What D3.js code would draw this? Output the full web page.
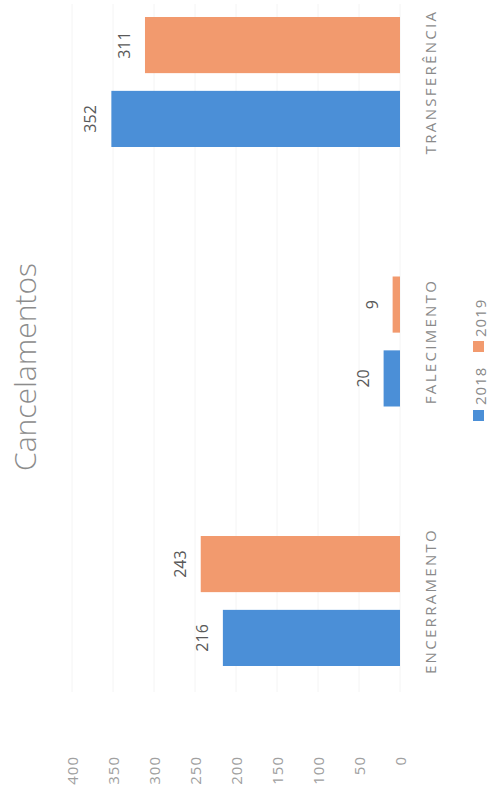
<!DOCTYPE html>
<html>
<head>
<meta charset="utf-8">
<script src="https://cdn.jsdelivr.net/npm/d3@7"></script>
<style>
  html, body { margin: 0; padding: 0; background: #ffffff; }
  svg { display: block; }
  text { font-family: "Open Sans", "DejaVu Sans", sans-serif; }
</style>
</head>
<body>
<svg id="chart" width="489" height="802"></svg>
<script>
// ---- data ----
const title = "Cancelamentos";
const categories = ["ENCERRAMENTO", "FALECIMENTO", "TRANSFERÊNCIA"];
const seriesNames = ["2018", "2019"];
const values2018 = [216, 20, 352];
const values2019 = [243, 9, 311];
const tickValues = [0, 50, 100, 150, 200, 250, 300, 350, 400];
const seriesColors = ["#4b8fd7", "#f29a6e"];

// ---- layout (chart is drawn rotated: values grow leftward, categories stacked vertically) ----
const W = 489, H = 802;
const svg = d3.select("#chart");

const x = d3.scaleLinear().domain([0, 400]).range([400, 72]);
const yCat = d3.scalePoint().domain(categories).range([601, 82]);
const ySer = d3.scaleBand().domain(seriesNames).range([65, -65]).paddingInner(0.24);

const seriesData = [values2018, values2019];

// gridlines (very faint in the scanned reference)
svg.append("g")
  .selectAll("line")
  .data(tickValues)
  .join("line")
  .attr("x1", d => x(d)).attr("x2", d => x(d))
  .attr("y1", 4).attr("y2", 692)
  .attr("stroke", "#f4f4f4")
  .attr("stroke-width", 1);

// value axis (tick labels only)
const axis = d3.axisBottom(x).tickValues(tickValues).tickSize(0).tickFormat(d3.format("d"));
const axG = svg.append("g").attr("transform", "translate(0,756)").call(axis);
axG.select(".domain").remove();
axG.selectAll("text")
  .attr("transform", "rotate(-90)")
  .attr("x", 0).attr("y", 0).attr("dy", "0.35em")
  .style("text-anchor", "end")
  .style("font-size", "15px")
  .style("letter-spacing", "1px")
  .style("fill", "#a0a0a0");

// bars
const bars = [];
categories.forEach((c, i) => {
  seriesNames.forEach((s, j) => {
    bars.push({ cat: c, ser: s, value: seriesData[j][i], color: seriesColors[j] });
  });
});

svg.append("g")
  .selectAll("rect")
  .data(bars)
  .join("rect")
  .attr("x", d => x(d.value))
  .attr("width", d => x(0) - x(d.value))
  .attr("y", d => yCat(d.cat) + ySer(d.ser))
  .attr("height", ySer.bandwidth())
  .attr("fill", d => d.color);

// value labels
svg.append("g")
  .selectAll("text")
  .data(bars)
  .join("text")
  .attr("transform", d => `translate(${x(d.value) - 15},${yCat(d.cat) + ySer(d.ser) + ySer.bandwidth() / 2}) rotate(-90)`)
  .attr("text-anchor", "middle")
  .style("font-size", "16px")
  .style("fill", "#595959")
  .text(d => d.value);

// category labels
svg.append("g")
  .selectAll("text")
  .data(categories)
  .join("text")
  .attr("transform", d => `translate(436,${yCat(d)}) rotate(-90)`)
  .attr("text-anchor", "middle")
  .style("font-size", "15px")
  .style("letter-spacing", "2.3px")
  .style("fill", "#8a8a8a")
  .text(d => d);

// title
svg.append("text")
  .attr("transform", "translate(36,367) rotate(-90)")
  .attr("text-anchor", "middle")
  .style("font-size", "30px")
  .style("font-weight", "300")
  .style("fill", "#8c8c8c")
  .text(title);

// legend
const legendItems = [
  { name: seriesNames[0], color: seriesColors[0], sq: 410, txt: 405 },
  { name: seriesNames[1], color: seriesColors[1], sq: 341, txt: 337 }
];
const lg = svg.append("g");
lg.selectAll("rect")
  .data(legendItems)
  .join("rect")
  .attr("x", 473).attr("y", d => d.sq)
  .attr("width", 11).attr("height", 11)
  .attr("fill", d => d.color);
lg.selectAll("text")
  .data(legendItems)
  .join("text")
  .attr("transform", d => `translate(486,${d.txt}) rotate(-90)`)
  .attr("text-anchor", "start")
  .style("font-size", "15px")
  .style("letter-spacing", "1px")
  .style("fill", "#8a8a8a")
  .text(d => d.name);
</script>
</body>
</html>
